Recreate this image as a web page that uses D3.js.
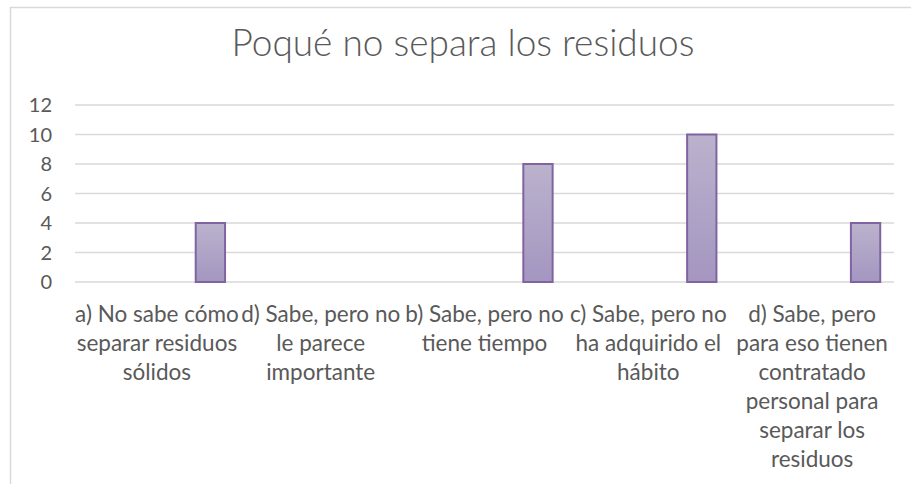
<!DOCTYPE html>
<html>
<head>
<meta charset="utf-8">
<script src="https://cdn.jsdelivr.net/npm/d3@7"></script>
<style>
  body { margin: 0; background: #fff; }
  text { font-family: Lato, "Open Sans", sans-serif; fill: #595959; }
</style>
</head>
<body>
<script>
// data
const title = "Poqué no separa los residuos";
const categories = [
  "a) No sabe cómo separar residuos sólidos",
  "d) Sabe, pero no le parece importante",
  "b) Sabe, pero no tiene tiempo",
  "c) Sabe, pero no ha adquirido el hábito",
  "d) Sabe, pero para eso tienen contratado personal para separar los residuos"
];
// how the axis wraps each label
const categoryLines = [
  ["a) No sabe cómo", "separar residuos", "sólidos"],
  ["d) Sabe, pero no", "le parece", "importante"],
  ["b) Sabe, pero no", "tiene tiempo"],
  ["c) Sabe, pero no", "ha adquirido el", "hábito"],
  ["d) Sabe, pero", "para eso tienen", "contratado", "personal para", "separar los", "residuos"]
];
const values = [4, 0, 8, 10, 4];
const yTicks = [0, 2, 4, 6, 8, 10, 12];

const W = 911, H = 484;
const margin = { top: 105, right: 17, bottom: 202, left: 75 };
const width = W - margin.left - margin.right,
      height = H - margin.top - margin.bottom;

const svg = d3.select("body").append("svg")
  .attr("width", W)
  .attr("height", H);

// chart frame (runs off the bottom / right of the picture)
svg.append("rect")
  .attr("x", 10.5).attr("y", 7.5)
  .attr("width", 920).attr("height", 500)
  .attr("fill", "none")
  .attr("stroke", "#d9d9d9")
  .attr("stroke-width", 1.5);

const defs = svg.append("defs");
const grad = defs.append("linearGradient")
  .attr("id", "barFill")
  .attr("x1", 0).attr("y1", 0).attr("x2", 0).attr("y2", 1);
grad.append("stop").attr("offset", "0%").attr("stop-color", "#bbb2cd");
grad.append("stop").attr("offset", "100%").attr("stop-color", "#a496c0");

svg.append("text")
  .attr("x", 463)
  .attr("y", 56)
  .attr("text-anchor", "middle")
  .style("font-size", "37px")
  .style("font-weight", 300)
  .text(title);

const g = svg.append("g")
  .attr("transform", `translate(${margin.left},${margin.top})`);

const x = d3.scaleBand().domain(categories).range([0, width]);
const y = d3.scaleLinear().domain([0, 12]).range([height, 0]);

// gridlines
g.selectAll(".grid")
  .data(yTicks)
  .enter().append("line")
  .attr("class", "grid")
  .attr("x1", 0).attr("x2", width)
  .attr("y1", d => y(d)).attr("y2", d => y(d))
  .attr("stroke", "#d9d9d9")
  .attr("stroke-width", 1.5);

// y tick labels
g.selectAll(".ytick")
  .data(yTicks)
  .enter().append("text")
  .attr("class", "ytick")
  .attr("x", -23)
  .attr("y", d => y(d))
  .attr("dy", "0.35em")
  .attr("text-anchor", "end")
  .style("font-size", "20px")
  .text(d => d);

// bars sit in the right part of each category slot
const BAR_OFFSET = 0.737, BAR_WIDTH = 0.179;
const barData = categories.map((c, i) => ({ c, v: values[i] })).filter(d => d.v > 0);

g.selectAll(".bar")
  .data(barData)
  .enter().append("rect")
  .attr("class", "bar")
  .attr("x", d => x(d.c) + x.bandwidth() * BAR_OFFSET)
  .attr("width", x.bandwidth() * BAR_WIDTH)
  .attr("y", d => y(d.v))
  .attr("height", d => y(0) - y(d.v))
  .attr("fill", "url(#barFill)")
  .attr("stroke", "#8064a2")
  .attr("stroke-width", 2);

// category labels
const lab = g.selectAll(".xlab")
  .data(categories)
  .enter().append("text")
  .attr("class", "xlab")
  .attr("text-anchor", "middle")
  .attr("transform", d => `translate(${x(d) + x.bandwidth() / 2},${height + 40})`)
  .style("font-size", "22.5px");

lab.selectAll("tspan")
  .data((d, i) => categoryLines[i])
  .enter().append("tspan")
  .attr("x", 0)
  .attr("y", (d, i) => i * 29)
  .text(d => d);
</script>
</body>
</html>
